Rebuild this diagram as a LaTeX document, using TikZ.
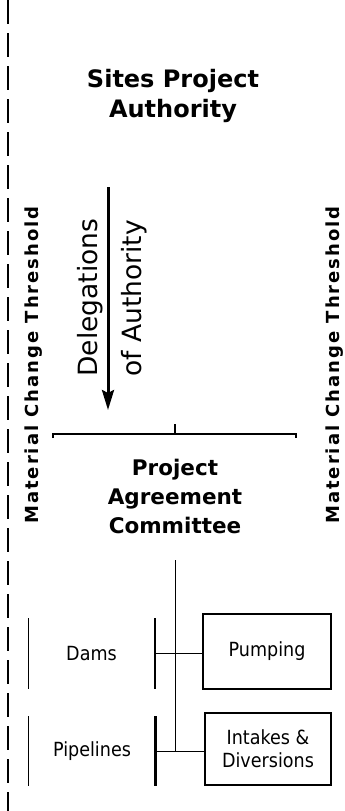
\documentclass[tikz,border=0pt]{standalone}
\usepackage{fontspec}
\setmainfont{DejaVu Sans}
\newfontfamily\spacedfont[LetterSpace=11]{DejaVu Sans}
\newfontfamily\narrowfont[FakeStretch=0.9]{DejaVu Sans}
\usetikzlibrary{arrows.meta}

\tikzstyle{heading}=[inner sep=0pt,align=center,font=\bfseries\fontsize{21.5}{29}\selectfont]
\tikzstyle{bigheading}=[heading,font=\bfseries\fontsize{24}{30}\selectfont]
\tikzstyle{threshold}=[inner sep=0pt,rotate=90,font=\spacedfont\bfseries\fontsize{18}{20}\selectfont]
\tikzstyle{delegation}=[inner sep=0pt,rotate=90,font=\fontsize{26.5}{30}\selectfont]
\tikzstyle{unitbox}=[draw,line width=1.2pt,inner sep=0pt,align=center,font=\narrowfont\fontsize{19.5}{23}\selectfont]
\tikzstyle{unitlabel}=[unitbox,draw=none]
\tikzstyle{thinedge}=[line width=0.8pt]
\tikzstyle{sideedge}=[line width=2.4pt]

\begin{document}
\begin{tikzpicture}[x=1pt,y=-1pt]
\useasboundingbox (0,0) rectangle (345,811);
% boundary on the left
\draw[line width=2pt,dash pattern=on 24pt off 9pt] (8,0) -- (8,811);
% top part
\node[bigheading] (spa) at (173,96) {Sites Project\\Authority};
\node[threshold] (mctl) at (34,365) {Material Change Threshold};
\node[threshold] (mctr) at (334.5,365) {Material Change Threshold};
\node[delegation] (deleg) at (90.5,297.5) {Delegations};
\node[delegation] (ofauth) at (134.5,298.5) {of Authority};
\coordinate (dtop) at (108,187);
\coordinate (dtip) at (108,410);
\draw[line width=3pt,-{Stealth[length=20pt,width=12pt,inset=3pt]}] (dtop) -- (dtip);
% bracket over the committee
\coordinate (bl) at (53,434);
\coordinate (bm) at (175,434);
\coordinate (br) at (296,434);
\draw[line width=1.4pt] (bl) ++(0,4) -- (bl) -- (br) -- ++(0,4);
\draw[line width=1.4pt] (bm) -- ++(0,-10);
\node[heading] (pac) at (175,496) {Project\\Agreement\\Committee};
% units
\node[unitlabel,minimum width=126pt,minimum height=69pt] (dams) at (91.5,653.5) {Dams};
\node[unitlabel,minimum width=126pt,minimum height=68pt] (pipes) at (92,751) {Pipelines};
\node[unitbox,minimum width=128pt,minimum height=75pt] (pump) at (267,651.5) {Pumping};
\node[unitbox,minimum width=126pt,minimum height=72pt] (intake) at (268,749) {Intakes \&\\Diversions};
\draw[thinedge] (dams.north west) -- (dams.south west);
\draw[sideedge] (dams.north east) -- (dams.south east);
\draw[thinedge] (pipes.north west) -- (pipes.south west);
\draw[sideedge] (pipes.north east) -- (pipes.south east);
% connectors
\coordinate (trunk) at (175,560);
\draw[thinedge] (trunk) -- (trunk |- pipes.east);
\draw[thinedge] (dams.east) -- (dams.east -| pump.west);
\draw[thinedge] (pipes.east) -- (pipes.east -| intake.west);
\end{tikzpicture}
\end{document}
